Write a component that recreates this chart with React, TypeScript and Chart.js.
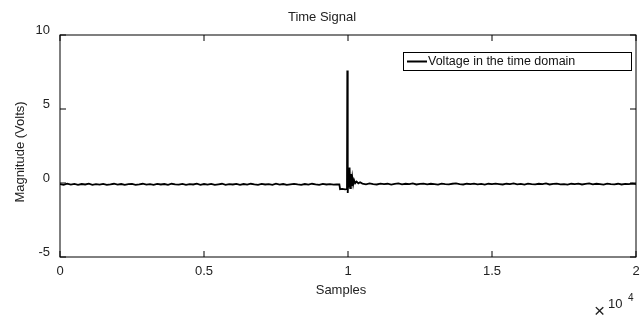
import React, { useEffect, useRef } from "react";
import { Chart, registerables } from "chart.js";

Chart.register(...registerables);

const FONT = '"Liberation Sans", Arial, Helvetica, sans-serif';

const chartTitle = "Time Signal";
const xAxisTitle = "Samples";
const yAxisTitle = "Magnitude (Volts)";
const seriesLabel = "Voltage in the time domain";
const xTickValues = [0, 5000, 10000, 15000, 20000];
const xTickLabels = ["0", "0.5", "1", "1.5", "2"];
const yTickValues = [-5, 0, 5, 10];

// sample index / voltage pairs
const preSamples = [
  0, 125, 250, 375, 500, 625, 750, 875, 1000, 1125, 1250, 1375, 1500, 1625,
  1750, 1875, 2000, 2125, 2250, 2375, 2500, 2625, 2750, 2875, 3000, 3125,
  3250, 3375, 3500, 3625, 3750, 3875, 4000, 4125, 4250, 4375, 4500, 4625,
  4750, 4875, 5000, 5125, 5250, 5375, 5500, 5625, 5750, 5875, 6000, 6125,
  6250, 6375, 6500, 6625, 6750, 6875, 7000, 7125, 7250, 7375, 7500, 7625,
  7750, 7875, 8000, 8125, 8250, 8375, 8500, 8625, 8750, 8875, 9000, 9125,
  9250, 9375, 9500,
];
const preValues = [
  -0.08, -0.13, -0.05, -0.11, -0.06, -0.12, -0.07, -0.1, -0.05, -0.13, -0.08,
  -0.11, -0.06, -0.12, -0.09, -0.05, -0.11, -0.07, -0.13, -0.08, -0.06, -0.12,
  -0.09, -0.05, -0.11, -0.08, -0.13, -0.06, -0.1, -0.07, -0.12, -0.05, -0.09,
  -0.11, -0.06, -0.13, -0.08, -0.1, -0.05, -0.12, -0.07, -0.11, -0.06, -0.13,
  -0.09, -0.05, -0.12, -0.08, -0.1, -0.06, -0.13, -0.07, -0.11, -0.05, -0.09,
  -0.12, -0.06, -0.1, -0.08, -0.13, -0.05, -0.11, -0.07, -0.12, -0.09, -0.06,
  -0.1, -0.13, -0.07, -0.11, -0.05, -0.09, -0.12, -0.06, -0.1, -0.08, -0.11,
];
const eventSamples = [
  9600, 9700, 9725, 9800, 9900, 9965, 9976, 9986, 9996, 10010, 10030, 10055,
  10075, 10100, 10125, 10150, 10180, 10210, 10250, 10300, 10360, 10420,
];
const eventValues = [
  -0.09, -0.1, -0.42, -0.4, -0.43, -0.41, 7.6, -0.3, -0.68, 0.2, -0.3, 1.05,
  -0.35, 0.6, -0.2, 0.35, -0.1, 0.2, -0.02, 0.1, -0.02, 0.05,
];
const postSamples = [
  10500, 10625, 10750, 10875, 11000, 11125, 11250, 11375, 11500, 11625,
  11750, 11875, 12000, 12125, 12250, 12375, 12500, 12625, 12750, 12875,
  13000, 13125, 13250, 13375, 13500, 13625, 13750, 13875, 14000, 14125,
  14250, 14375, 14500, 14625, 14750, 14875, 15000, 15125, 15250, 15375,
  15500, 15625, 15750, 15875, 16000, 16125, 16250, 16375, 16500, 16625,
  16750, 16875, 17000, 17125, 17250, 17375, 17500, 17625, 17750, 17875,
  18000, 18125, 18250, 18375, 18500, 18625, 18750, 18875, 19000, 19125,
  19250, 19375, 19500, 19625, 19750, 19875, 20000,
];
const postValues = [
  -0.04, -0.09, -0.03, -0.07, -0.1, -0.04, -0.08, -0.05, -0.11, -0.06, -0.03,
  -0.09, -0.05, -0.08, -0.03, -0.1, -0.06, -0.04, -0.09, -0.05, -0.08, -0.11,
  -0.04, -0.07, -0.09, -0.05, -0.03, -0.08, -0.1, -0.05, -0.07, -0.04, -0.09,
  -0.06, -0.11, -0.05, -0.08, -0.04, -0.07, -0.1, -0.05, -0.08, -0.03, -0.09,
  -0.06, -0.11, -0.04, -0.07, -0.09, -0.05, -0.08, -0.03, -0.1, -0.06, -0.04,
  -0.09, -0.07, -0.11, -0.05, -0.08, -0.04, -0.1, -0.06, -0.03, -0.09, -0.05,
  -0.08, -0.11, -0.04, -0.07, -0.09, -0.05, -0.1, -0.06, -0.08, -0.04, -0.07,
];

export default function App() {
  const ref = useRef<HTMLCanvasElement | null>(null);

  useEffect(() => {
    if (!ref.current) return;
    const xs = [...preSamples, ...eventSamples, ...postSamples];
    const ys = [...preValues, ...eventValues, ...postValues];
    const points = xs.map((x, i) => ({ x, y: ys[i] }));

    const decor = {
      id: "decor",
      afterDraw(chart: any) {
        const { ctx, chartArea: a, scales } = chart;
        const xs = scales.x;
        const ys = scales.y;
        ctx.save();
        // box
        ctx.strokeStyle = "#000";
        ctx.lineWidth = 1;
        ctx.strokeRect(a.left, a.top, a.right - a.left, a.bottom - a.top);
        // inner ticks
        const tl = 6;
        ctx.beginPath();
        xTickValues.forEach((v) => {
          const px = Math.round(xs.getPixelForValue(v));
          ctx.moveTo(px, a.bottom);
          ctx.lineTo(px, a.bottom - tl);
          ctx.moveTo(px, a.top);
          ctx.lineTo(px, a.top + tl);
        });
        yTickValues.forEach((v) => {
          const py = Math.round(ys.getPixelForValue(v));
          ctx.moveTo(a.left, py);
          ctx.lineTo(a.left + tl, py);
          ctx.moveTo(a.right, py);
          ctx.lineTo(a.right - tl, py);
        });
        ctx.stroke();

        ctx.fillStyle = "#222";
        ctx.textAlign = "center";
        ctx.textBaseline = "middle";
        ctx.font = `13px ${FONT}`;
        ctx.fillText(chartTitle, 322, 17);
        ctx.fillText(xAxisTitle, 341, 290);
        ctx.save();
        ctx.translate(20, 152);
        ctx.rotate(-Math.PI / 2);
        ctx.fillText(yAxisTitle, 0, 0);
        ctx.restore();

        // exponent
        ctx.textAlign = "left";
        ctx.font = `19px ${FONT}`;
        ctx.fillText("\u00d7", 594, 312);
        ctx.font = `13px ${FONT}`;
        ctx.fillText("10", 608, 304);
        ctx.font = `10px ${FONT}`;
        ctx.fillText("4", 628, 298);

        // legend
        const lx = 403, ly = 52, lw = 228, lh = 18;
        ctx.fillStyle = "#fff";
        ctx.fillRect(lx, ly, lw, lh);
        ctx.strokeStyle = "#000";
        ctx.lineWidth = 1;
        ctx.strokeRect(lx + 0.5, ly + 0.5, lw, lh);
        ctx.beginPath();
        ctx.lineWidth = 2;
        ctx.moveTo(407, ly + 9.5);
        ctx.lineTo(427, ly + 9.5);
        ctx.stroke();
        ctx.fillStyle = "#111";
        ctx.font = `12.5px ${FONT}`;
        ctx.textBaseline = "middle";
        ctx.fillText(seriesLabel, 428, ly + 10);
        ctx.restore();
      },
    };

    const chart = new Chart(ref.current, {
      type: "line",
      data: {
        datasets: [
          {
            label: seriesLabel,
            data: points,
            borderColor: "#000",
            borderWidth: 1.8,
            pointRadius: 0,
            tension: 0,
            fill: false,
          },
        ],
      },
      options: {
        responsive: false,
        animation: false,
        devicePixelRatio: 1,
        layout: { padding: { top: 35, right: 7, left: 0, bottom: 0 } },
        plugins: {
          legend: { display: false },
          tooltip: { enabled: false },
          title: { display: false },
        },
        scales: {
          x: {
            type: "linear",
            min: 0,
            max: 20000,
            grid: { display: false, drawTicks: false },
            border: { display: false },
            afterFit: (s: any) => {
              s.height = 63;
              s.paddingLeft = 0;
              s.paddingRight = 0;
            },
            afterBuildTicks: (s: any) => {
              s.ticks = xTickValues.map((v) => ({ value: v }));
            },
            ticks: {
              padding: 7,
              maxRotation: 0,
              autoSkip: false,
              color: "#222",
              font: { family: FONT, size: 13 },
              callback: (v: any) => {
                const i = xTickValues.indexOf(Number(v));
                return i >= 0 ? xTickLabels[i] : "";
              },
            },
          },
          y: {
            type: "linear",
            min: -5,
            max: 10,
            grid: { display: false, drawTicks: false },
            border: { display: false },
            afterFit: (s: any) => {
              s.width = 60;
              s.paddingTop = 0;
              s.paddingBottom = 0;
            },
            afterBuildTicks: (s: any) => {
              s.ticks = yTickValues.map((v) => ({ value: v }));
            },
            ticks: {
              padding: 10,
              labelOffset: -4.5,
              color: "#222",
              font: { family: FONT, size: 13 },
              callback: (v: any) => String(v),
            },
          },
        },
      },
      plugins: [decor],
    });
    return () => chart.destroy();
  }, []);

  return (
    <div style={{ position: "fixed", left: 0, top: 0, width: 643, height: 320, background: "#fff" }}>
      <canvas ref={ref} width={643} height={320} style={{ display: "block" }} />
    </div>
  );
}
